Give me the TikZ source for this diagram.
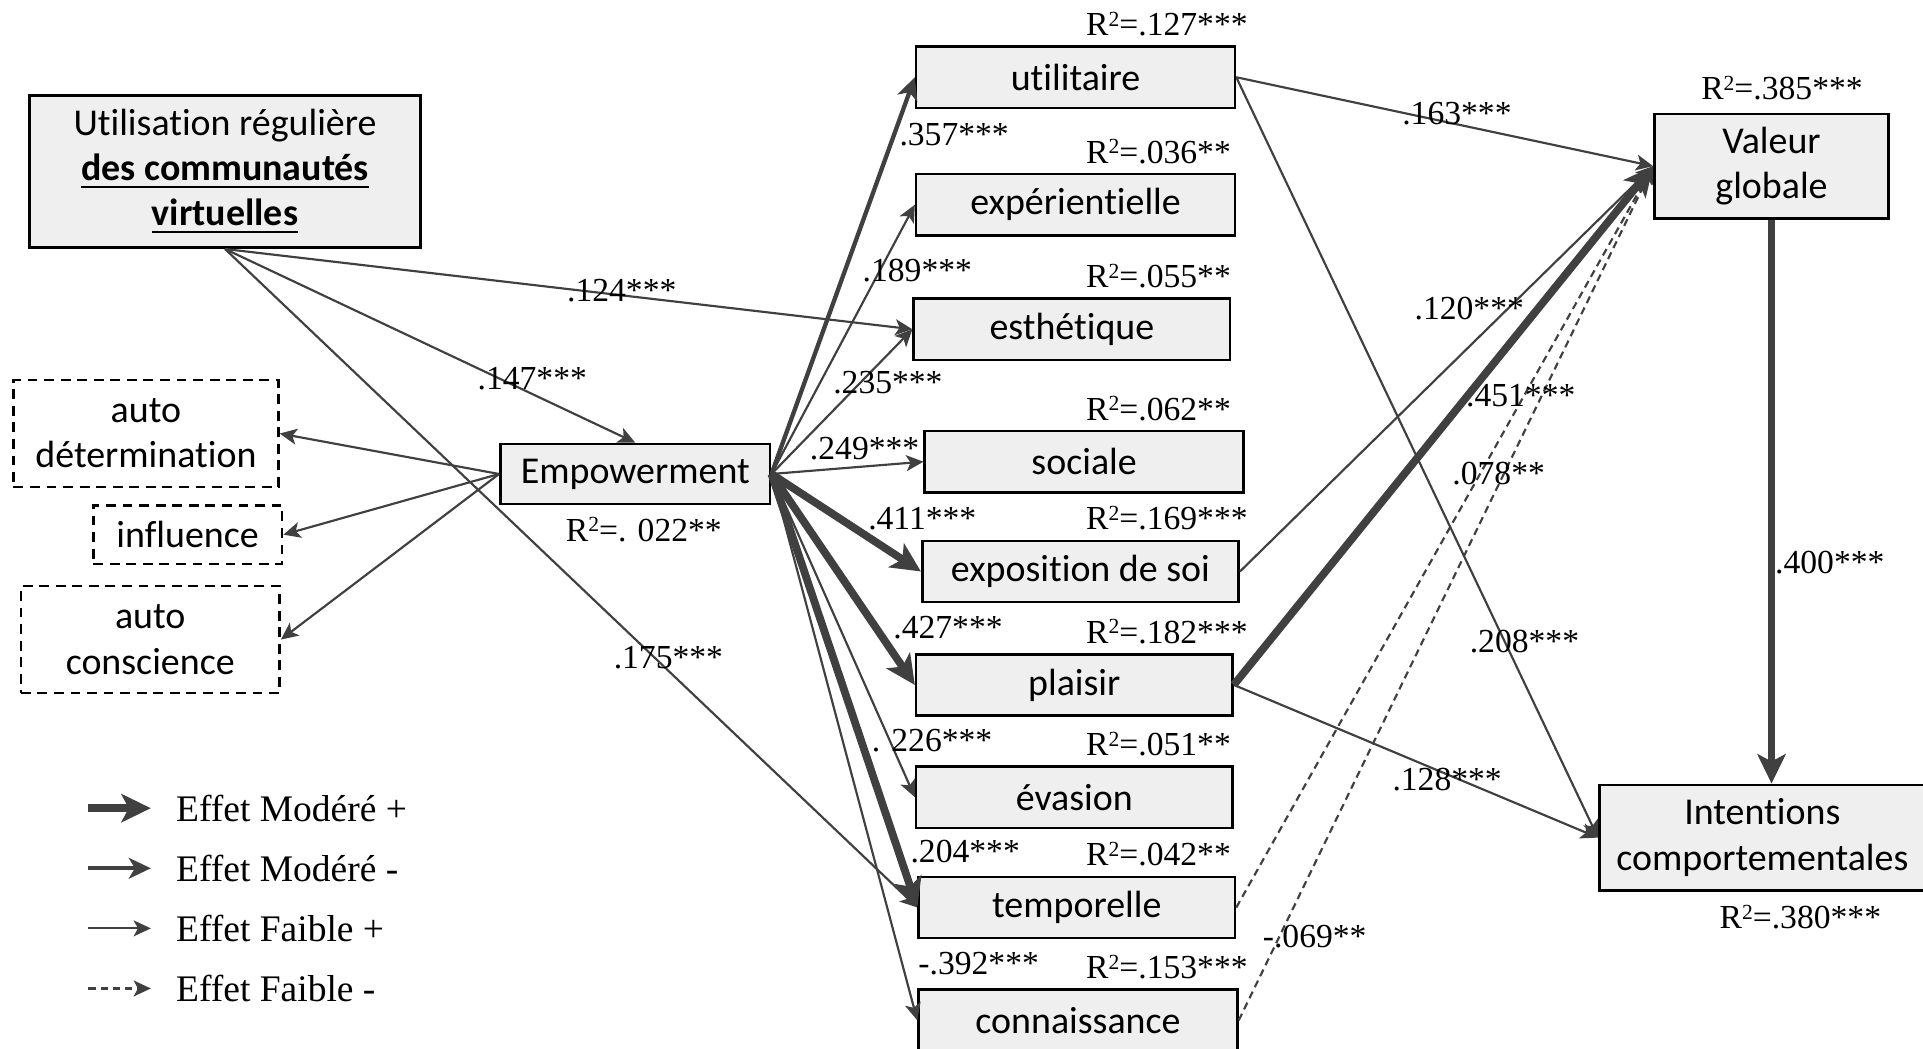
\documentclass[tikz,border=0pt]{standalone}
\usepackage{fontspec}
\setmainfont{Liberation Serif}
\setsansfont{Carlito}[Ligatures=NoCommon]
\usepackage{tikz}
\usetikzlibrary{arrows.meta,positioning,calc}
\definecolor{boxgray}{RGB}{239,239,239}
\definecolor{linegray}{RGB}{64,64,64}
\newcommand{\rdeux}{R\raisebox{0.28em}{\fontsize{5}{5}\selectfont 2}}

\begin{document}
\begin{tikzpicture}[x=0.1mm, y=-0.1mm,
  box/.style={draw=black, line width=0.6pt, fill=boxgray, inner sep=0pt, align=center, font=\sffamily\fontsize{8.8}{10.5}\selectfont},
  dimbox/.style={box, fill=white, dash pattern=on 0.8mm off 0.55mm},
  coef/.style={inner sep=0pt, font=\fontsize{7.8}{9}\selectfont},
  faible/.style={draw=linegray, line width=0.5pt, -{Stealth[length=1.4mm, width=1.3mm, inset=0.35mm]}},
  faiblemoins/.style={faible, dash pattern=on 0.6mm off 0.4mm},
  moderemoins/.style={draw=linegray, line width=1pt, -{Stealth[length=1.8mm, width=1.7mm, inset=0.5mm]}},
  modere/.style={draw=linegray, line width=1.8pt, -{Stealth[length=2.4mm, width=2.3mm, inset=0.6mm]}}]
\useasboundingbox (0,0) rectangle (1568,855);

% antecedent and empowerment dimensions
\node[box, minimum width=31.9mm, minimum height=12.4mm] (usage) at (183.5,140) {Utilisation régulière\\\underline{\textbf{des communautés}}\\\underline{\textbf{virtuelles}}};
\node[dimbox, minimum width=21.6mm, minimum height=8.7mm] (autodet) at (119,353.5) {auto\\détermination};
\node[dimbox, minimum width=15.4mm, minimum height=4.8mm] (infl) at (153,436) {influence};
\node[dimbox, minimum width=21.1mm, minimum height=8.7mm] (autocon) at (122.5,521.5) {auto\\conscience};
\node[box, minimum width=22mm, minimum height=4.9mm] (emp) at (518,386.5) {Empowerment};
\node[coef] (r2emp) at (525,432) {\rdeux=. 022**};

% value dimensions
\foreach \nm/\lab/\px/\py/\bw/\rr in {uti/utilitaire/877/63/26/.127***, exp/expérientielle/877/167/26/.036**, est/esthétique/874/268.5/25.8/.055**, soc/sociale/884/376.5/26/.062**, exs/exposition de soi/881/466/25.8/.169***, pla/plaisir/876/558.5/25.8/.182***, eva/évasion/876/650/25.8/.051**, tem/temporelle/878/740/25.8/.042**, con/connaissance/879/832/26/.153***} {
  \node[box, minimum width=\bw mm, minimum height=5mm] (\nm) at (\px,\py) {\lab};
  \pgfmathsetmacro{\ly}{\py-34}
  \node[coef, anchor=base west] (r\nm) at (885,\ly) {\rdeux=\rr};
}

% outcomes
\node[box, minimum width=19.1mm, minimum height=8.5mm] (val) at (1444.5,135.5) {Valeur\\globale};
\node[coef] (r2val) at (1453,72) {\rdeux=.385***};
\node[box, minimum width=26.6mm, minimum height=8.6mm] (int) at (1437,683) {Intentions\\comportementales};
\node[coef] (r2int) at (1468,748) {\rdeux=.380***};

% paths
\draw[faible] (usage.south) -- (est.west);
\draw[faible] (usage.south) -- (emp.north);
\draw[faible] (usage.south) -- (tem.west);
\foreach \d in {autodet,infl,autocon} \draw[faible] (emp.west) -- (\d.east);
\draw[moderemoins] (emp.east) -- (uti.west);
\foreach \d in {exp,est,soc,eva,con} \draw[faible] (emp.east) -- (\d.west);
\foreach \d in {exs,pla,tem} \draw[modere] (emp.east) -- (\d.west);
\draw[faible] (uti.east) -- (val.west);
\draw[faible] (uti.east) -- (int.west);
\draw[faible] (exs.east) -- (val.west);
\draw[modere] (pla.east) -- (val.west);
\draw[faible] (pla.east) -- (int.west);
\draw[faiblemoins] (tem.east) -- (val.west);
\draw[faiblemoins] (con.east) -- (val.west);
\draw[modere] (val.south) -- (val.south |- int.north);

% coefficients
\foreach \nm/\px/\py/\lab in {c124/507/237/.124***, c147/434/309/.147***, c175/545/536/.175***, c357/778/110/.357***, c189/748/221/.189***, c235/724/312/.235***, c249/705/366/.249***, c411/752/423/.411***, c427/773/512/.427***, c226/760/604/. 226***, c204/787/694/.204***, c392/798/786/-.392***, c163/1188/93/.163***, c120/1198/252/.120***, c451/1240/323/.451***, c078/1222/386/.078**, c208/1243/523/.208***, c128/1180/636/.128***, c069/1072/764/-.069**, c400/1492/459/.400***}
  \node[coef] (\nm) at (\px,\py) {\lab};

% legend
\foreach \i/\sty/\lab/\py in {1/modere/Effet Modéré +/659, 2/moderemoins/Effet Modéré -/708, 3/faible/Effet Faible +/757, 4/faiblemoins/Effet Faible -/806} {
  \coordinate (ls\i) at (72,\py);
  \node[anchor=west, inner sep=0pt, font=\fontsize{8.7}{10}\selectfont] (lg\i) at (143,\py) {\lab};
  \draw[\sty, shorten >=2mm] (ls\i) -- (lg\i.west);
}
\end{tikzpicture}
\end{document}
